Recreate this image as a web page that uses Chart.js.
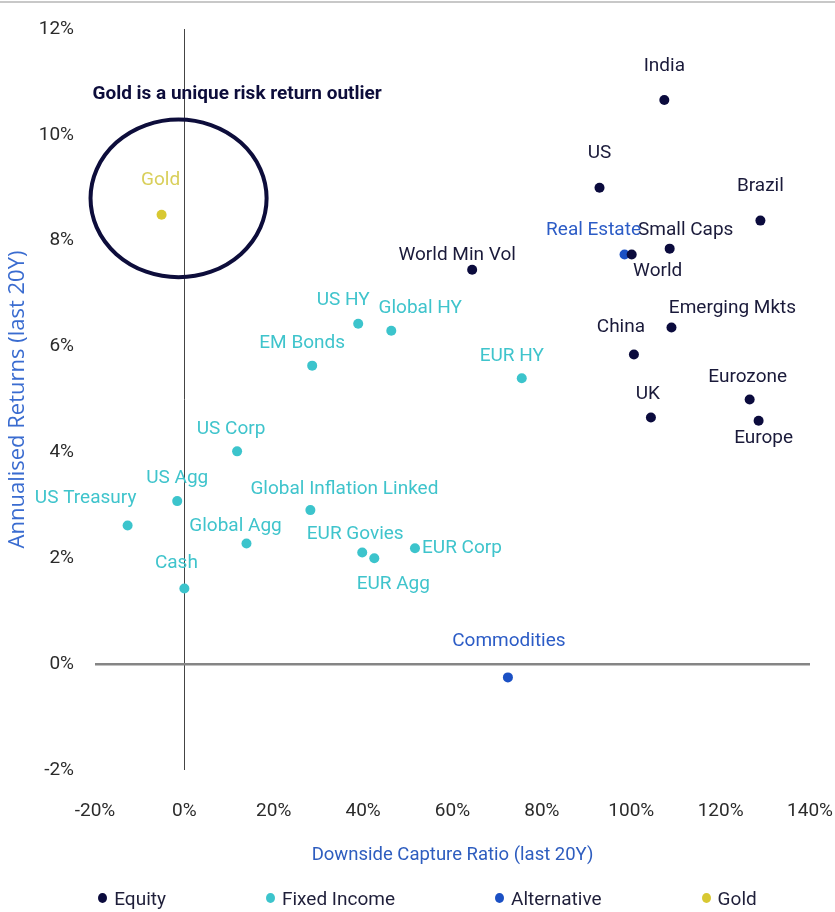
<!DOCTYPE html>
<html><head><meta charset="utf-8">
<script src="https://cdn.jsdelivr.net/npm/chart.js@4"></script>
<style>
html,body{margin:0;padding:0;background:#fff;}
body{width:835px;height:912px;overflow:hidden;font-family:Roboto,"Liberation Sans",sans-serif;}
#wrap{position:relative;width:835px;height:912px;}
#topline{position:absolute;left:0;top:1px;width:835px;height:2px;background:#c8c8c8;}
#legend{position:absolute;left:10px;top:884px;width:835px;height:28px;display:flex;justify-content:center;align-items:center;gap:100px;font-size:19px;color:#1f1f3a;}
#legend .it{display:flex;align-items:center;white-space:nowrap;}
#legend .dot{width:9px;height:10px;border-radius:50%;margin-right:7px;display:inline-block;}
</style></head><body>
<div id="wrap"><canvas id="c" width="835" height="912"></canvas><div id="topline"></div><div id="legend"></div></div>
<script>
// ---- data (x: downside capture ratio %, y: annualised return %) ----
const equityNames = ['India','US','Brazil','Small Caps','World','World Min Vol','Emerging Mkts','China','UK','Eurozone','Europe'];
const equityX = [107.4, 92.9, 128.9, 108.6, 100.1, 64.4, 109.0, 100.6, 104.4, 126.5, 128.5];
const equityY = [10.66, 9.0, 8.38, 7.85, 7.74, 7.45, 6.36, 5.85, 4.66, 5.0, 4.6];

const fixedNames = ['US HY','Global HY','EM Bonds','EUR HY','US Corp','US Agg','US Treasury','Global Inflation Linked','Global Agg','EUR Govies','EUR Agg','EUR Corp','Cash'];
const fixedX = [38.9, 46.3, 28.6, 75.5, 11.8, -1.6, -12.7, 28.2, 13.9, 39.8, 42.5, 51.6, 0.0];
const fixedY = [6.43, 6.30, 5.64, 5.40, 4.02, 3.08, 2.62, 2.91, 2.28, 2.11, 2.0, 2.19, 1.43];

const altNames = ['Real Estate','Commodities'];
const altX = [98.5, 72.4];
const altY = [7.74, -0.25];

const goldNames = ['Gold'];
const goldX = [-5.1];
const goldY = [8.49];

const seriesNames = ['Equity','Fixed Income','Alternative','Gold'];
const xTicks = [-20, 0, 20, 40, 60, 80, 100, 120, 140];
const yTicks = [-2, 0, 2, 4, 6, 8, 10, 12];
const calloutText = 'Gold is a unique risk return outlier';

// ---- styling ----
const FONT = 'Roboto,"Liberation Sans",sans-serif';
const colors = {
  'Equity': {dot:'#0b0b3d', label:'#1a1a3a'},
  'Fixed Income': {dot:'#3cc4cc', label:'#3fc4cc'},
  'Alternative': {dot:'#1b50c4', label:'#2c5cc6'},
  'Gold': {dot:'#d8c832', label:'#d9cf5a'}
};
// label offsets (pixels from the point) for annotation text
const labelOffsets = {
  'India':[0,-34],'US':[0,-35],'Brazil':[0,-34],'Small Caps':[16,-18],'World':[26,17],
  'World Min Vol':[-15,-15],'Emerging Mkts':[61,-19],'China':[-13,-27],'UK':[-3,-23],
  'Eurozone':[-2,-22],'Europe':[5,18],'Real Estate':[-31,-24],'Commodities':[1,-36],
  'Gold':[-1,-35],'US HY':[-15,-24],'Global HY':[29,-22],'EM Bonds':[-10,-22],'EUR HY':[-10,-22],
  'US Corp':[-6,-22],'US Agg':[0,-23],'US Treasury':[-42,-27],'Global Inflation Linked':[34,-21],
  'Global Agg':[-11,-17],'EUR Govies':[-7,-18],'EUR Agg':[19,26],'EUR Corp':[47,0],'Cash':[-8,-25]
};
const ellipse = {cx:-1.3, cy:8.8, rx:19.7, ry:1.49};
const callout = {x:11.8, y:10.77};

function pts(xs, ys){ return xs.map((x,i)=>({x:x, y:ys[i]})); }
const groups = [
  {name:seriesNames[0], names:equityNames, data:pts(equityX,equityY)},
  {name:seriesNames[1], names:fixedNames, data:pts(fixedX,fixedY)},
  {name:seriesNames[2], names:altNames, data:pts(altX,altY)},
  {name:seriesNames[3], names:goldNames, data:pts(goldX,goldY)}
];

const datasets = groups.map(g=>({
  label:g.name, names:g.names, data:g.data,
  backgroundColor:colors[g.name].dot, borderColor:colors[g.name].dot,
  labelColor:colors[g.name].label,
  pointRadius:5, pointHoverRadius:5, borderWidth:0
}));

const labelPlugin = {
  id:'pointLabels',
  afterDatasetsDraw(chart){
    const ctx = chart.ctx;
    chart.data.datasets.forEach((ds,i)=>{
      const meta = chart.getDatasetMeta(i);
      meta.data.forEach((el,j)=>{
        const name = ds.names[j];
        const off = labelOffsets[name] || [0,-22];
        ctx.save();
        ctx.font = '19px ' + FONT;
        ctx.fillStyle = ds.labelColor;
        ctx.textAlign = 'center';
        ctx.textBaseline = 'middle';
        ctx.fillText(name, el.x+off[0], el.y+off[1]);
        ctx.restore();
      });
    });
  }
};

const calloutPlugin = {
  id:'callout',
  afterDatasetsDraw(chart){
    const ctx = chart.ctx, xs = chart.scales.x, ys = chart.scales.y;
    const cx = xs.getPixelForValue(ellipse.cx), cy = ys.getPixelForValue(ellipse.cy);
    const rx = Math.abs(xs.getPixelForValue(ellipse.cx+ellipse.rx)-cx);
    const ry = Math.abs(ys.getPixelForValue(ellipse.cy+ellipse.ry)-cy);
    ctx.save();
    ctx.beginPath();
    ctx.ellipse(cx, cy, rx, ry, 0, 0, Math.PI*2);
    ctx.lineWidth = 4;
    ctx.strokeStyle = '#0d0d3b';
    ctx.stroke();
    ctx.font = 'bold 19px ' + FONT;
    ctx.fillStyle = '#0d0d3b';
    ctx.textAlign = 'center';
    ctx.textBaseline = 'middle';
    ctx.fillText(calloutText, xs.getPixelForValue(callout.x), ys.getPixelForValue(callout.y));
    ctx.restore();
  }
};

const chart = new Chart(document.getElementById('c'), {
  type:'scatter',
  data:{datasets:datasets},
  options:{
    responsive:false, animation:false,
    layout:{padding:{top:29, right:25, bottom:35, left:0}},
    plugins:{legend:{display:false}, tooltip:{enabled:false}},
    scales:{
      x:{
        type:'linear', min:xTicks[0], max:xTicks[xTicks.length-1],
        afterBuildTicks(s){ s.ticks = xTicks.map(v=>({value:v})); },
        afterFit(s){ s.height = 107; s.paddingLeft = 0; s.paddingRight = 0; },
        ticks:{callback:v=>v+'%', color:'#2b2b2b', font:{family:FONT, size:19}, padding:30, maxRotation:0},
        grid:{drawTicks:false, color:c=>c.tick && c.tick.value===0 ? '#444' : 'rgba(0,0,0,0)', lineWidth:1},
        border:{display:false},
        title:{display:true, text:'Downside Capture Ratio (last 20Y)', color:'#2e5dbf', font:{family:FONT, size:18.5}, padding:{top:0, bottom:11}}
      },
      y:{
        type:'linear', min:yTicks[0], max:yTicks[yTicks.length-1],
        afterBuildTicks(s){ s.ticks = yTicks.map(v=>({value:v})); },
        afterFit(s){ s.width = 95; s.paddingTop = 0; s.paddingBottom = 0; },
        ticks:{callback:v=>v+'%', color:'#2b2b2b', font:{family:FONT, size:19}, padding:21},
        grid:{drawTicks:false, color:c=>c.tick && c.tick.value===0 ? '#858585' : 'rgba(0,0,0,0)', lineWidth:2.5},
        border:{display:false},
        title:{display:true, text:'Annualised Returns (last 20Y)', color:'#3a6cd0', font:{family:'"Open Sans",sans-serif', size:22}, padding:{top:5, bottom:0}}
      }
    }
  },
  plugins:[labelPlugin, calloutPlugin]
});

// HTML legend built from the chart datasets
const leg = document.getElementById('legend');
chart.data.datasets.forEach(ds=>{
  const it = document.createElement('div'); it.className='it';
  const d = document.createElement('span'); d.className='dot'; d.style.background = ds.backgroundColor;
  const t = document.createElement('span'); t.textContent = ds.label;
  it.appendChild(d); it.appendChild(t); leg.appendChild(it);
});
</script>
</body></html>
